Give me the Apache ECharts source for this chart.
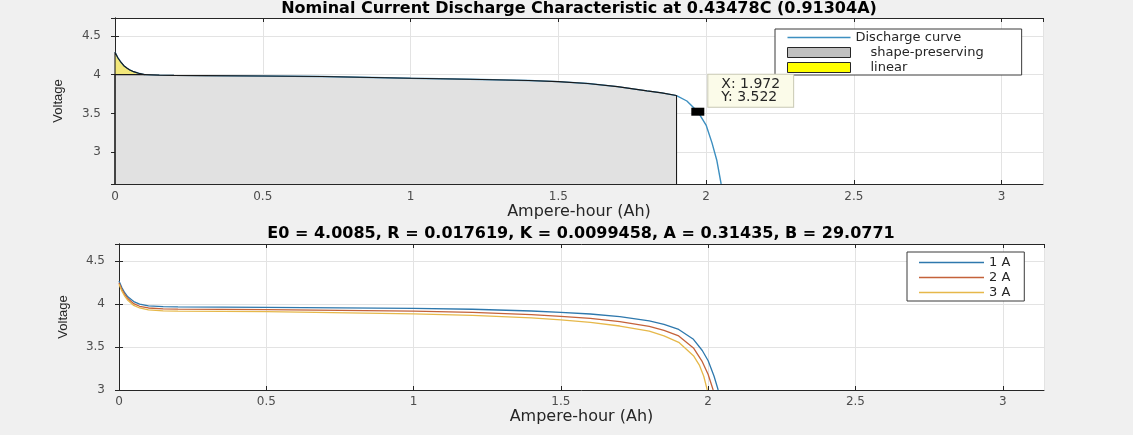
<!DOCTYPE html>
<html><head><meta charset="utf-8">
<script src="https://cdn.jsdelivr.net/npm/echarts@6/dist/echarts.min.js"></script>
<style>html,body{margin:0;padding:0;background:#f0f0f0}#c{width:1133px;height:435px}</style>
</head><body><div id="c"></div>
<script>
// ---------- text ----------
const topTitle = 'Nominal Current Discharge Characteristic at 0.43478C (0.91304A)';
const bottomTitle = 'E0 = 4.0085, R = 0.017619, K = 0.0099458, A = 0.31435, B = 29.0771';
const xName = 'Ampere-hour (Ah)';
const yName = 'Voltage';
const topLegendNames = ['Discharge curve', 'shape-preserving', 'linear'];
const bottomLegendNames = ['1 A', '2 A', '3 A'];

// ---------- axes ranges ----------
const xRange = [0, 3.14];
const topYRange = [2.59, 4.73];
const bottomYRange = [3, 4.7];

// ---------- nominal discharge curve (top) ----------
const nomX = [0, 0.01, 0.02, 0.03, 0.04, 0.05, 0.06, 0.08, 0.1, 0.15, 0.2, 0.3, 0.5, 0.7, 1.0, 1.2, 1.4, 1.5, 1.6, 1.7, 1.8, 1.85, 1.9, 1.935, 1.972, 2.0, 2.02, 2.036, 2.051];
const nomV = [4.29, 4.215, 4.16, 4.115, 4.085, 4.06, 4.042, 4.018, 4.0, 3.993, 3.99, 3.987, 3.982, 3.975, 3.953, 3.94, 3.925, 3.91, 3.885, 3.845, 3.79, 3.765, 3.73, 3.66, 3.522, 3.35, 3.12, 2.9, 2.59];
const shapeEndX = 1.9;     // end of the shape-preserving (grey) zone
const linearLevel = 4.0;   // level of the linear zone
const linearEndX = 0.1;    // end of the exponential (yellow) zone
const dataTip = [1.972, 3.522];

// ---------- discharge at 1 A, 2 A, 3 A (bottom) ----------
const ah1 = [0, 0.01, 0.02, 0.03, 0.05, 0.07, 0.1, 0.15, 0.2, 0.5, 1.0, 1.2, 1.4, 1.5, 1.6, 1.7, 1.8, 1.85, 1.9, 1.95, 1.98, 2.0, 2.02, 2.034];
const v1  = [4.27, 4.19, 4.13, 4.085, 4.03, 4.0, 3.98, 3.97, 3.968, 3.962, 3.95, 3.94, 3.92, 3.905, 3.885, 3.855, 3.805, 3.765, 3.705, 3.59, 3.46, 3.34, 3.16, 3.0];
const ah2 = [0, 0.01, 0.02, 0.03, 0.05, 0.07, 0.1, 0.15, 0.2, 0.5, 1.0, 1.2, 1.4, 1.5, 1.6, 1.7, 1.8, 1.85, 1.9, 1.95, 1.98, 2.0, 2.017];
const v2  = [4.25, 4.17, 4.11, 4.065, 4.005, 3.975, 3.955, 3.945, 3.942, 3.935, 3.918, 3.903, 3.878, 3.858, 3.833, 3.795, 3.74, 3.695, 3.63, 3.49, 3.33, 3.18, 3.0];
const ah3 = [0, 0.01, 0.02, 0.03, 0.05, 0.07, 0.1, 0.15, 0.2, 0.5, 1.0, 1.2, 1.4, 1.5, 1.6, 1.7, 1.8, 1.85, 1.9, 1.95, 1.97, 1.985, 1.997];
const v3  = [4.23, 4.15, 4.09, 4.045, 3.985, 3.955, 3.932, 3.921, 3.918, 3.912, 3.886, 3.87, 3.84, 3.817, 3.787, 3.745, 3.685, 3.63, 3.555, 3.40, 3.29, 3.16, 3.0];

// ---------- build ----------
const FF = 'DejaVu Sans';
const axisColor = '#262626';
const pairs = (xs, ys) => xs.map((x, i) => [x, ys[i]]);

const nomData = pairs(nomX, nomV);
const grayData = [[0, topYRange[0]]]
  .concat(nomData.filter(p => p[0] <= shapeEndX).map(p => [p[0], Math.min(p[1], linearLevel)]))
  .concat([[shapeEndX, topYRange[0]]]);
const yellowData = [[0, topYRange[0]]]
  .concat(nomData.filter(p => p[0] <= linearEndX));

function mainX(gridIndex, nameGap, margin) {
  return {
    type: 'value', gridIndex, min: xRange[0], max: xRange[1], interval: 0.5,
    name: xName, nameLocation: 'middle', nameGap,
    nameTextStyle: { fontFamily: FF, fontSize: 16, color: '#262626' },
    axisLine: { show: true, lineStyle: { color: axisColor } },
    axisTick: { show: true, inside: true, length: 4, lineStyle: { color: axisColor } },
    axisLabel: { margin, fontFamily: FF, fontSize: 12, color: '#4d4d4d', showMaxLabel: false },
    splitLine: { show: true, lineStyle: { color: '#e3e3e3' } }
  };
}
function sideX(gridIndex) {
  return {
    type: 'value', gridIndex, position: 'top', min: xRange[0], max: xRange[1], interval: 0.5,
    axisLine: { show: true, lineStyle: { color: axisColor } },
    axisTick: { show: true, inside: true, length: 4, lineStyle: { color: axisColor } },
    axisLabel: { show: false }, splitLine: { show: false }
  };
}
function mainY(gridIndex, range, interval, nameGap) {
  const o = {
    type: 'value', gridIndex, min: range[0], max: range[1],
    name: yName, nameLocation: 'middle', nameGap,
    nameTextStyle: { fontFamily: 'Liberation Sans', fontSize: 13, color: '#262626' },
    axisLine: { show: true, lineStyle: { color: axisColor } },
    axisTick: { show: true, inside: true, length: 4, lineStyle: { color: axisColor } },
    axisLabel: { margin: 14, fontFamily: FF, fontSize: 12, color: '#4d4d4d', showMinLabel: interval ? true : false, showMaxLabel: false },
    splitLine: { show: true, lineStyle: { color: '#e3e3e3' } }
  };
  if (interval) o.interval = interval; else o.splitNumber = 4;
  return o;
}
function sideY(gridIndex, range, interval) {
  const o = {
    type: 'value', gridIndex, position: 'right', min: range[0], max: range[1],
    axisLine: { show: true, lineStyle: { color: axisColor } },
    axisTick: { show: true, inside: true, length: 4, lineStyle: { color: axisColor } },
    axisLabel: { show: false }, splitLine: { show: false }
  };
  if (interval) o.interval = interval; else o.splitNumber = 4;
  return o;
}
const lineIcon = 'path://M0,0H64V1.3H0Z';
const colNom = '#3d8fc0', col1 = '#2e78ad', col2 = '#c4623a', col3 = '#e6b84a';

const option = {
  animation: false,
  backgroundColor: '#f0f0f0',
  title: [
    { text: topTitle, left: 579, top: 0, textAlign: 'center', padding: 0,
      textStyle: { fontFamily: FF, fontSize: 16, fontWeight: 'bold', color: '#000', lineHeight: 18 } },
    { text: bottomTitle, left: 581, top: 225, textAlign: 'center', padding: 0,
      textStyle: { fontFamily: FF, fontSize: 16, fontWeight: 'bold', color: '#000', lineHeight: 18 } }
  ],
  grid: [
    { left: 115, top: 18, right: 90, bottom: 251, show: true, backgroundColor: '#fff', borderWidth: 0 },
    { left: 119, top: 244, right: 89, bottom: 45, show: true, backgroundColor: '#fff', borderWidth: 0 }
  ],
  xAxis: [mainX(0, 19, 7), sideX(0), mainX(1, 19, 6), sideX(1)],
  yAxis: [mainY(0, topYRange, null, 50), sideY(0, topYRange, null), mainY(1, bottomYRange, 0.5, 49), sideY(1, bottomYRange, 0.5)],
  legend: [
    {
      orient: 'vertical', left: 775, top: 29, padding: [2, 38, 1, 12], itemGap: 2,
      itemWidth: 63, itemHeight: 10, selectedMode: false,
      backgroundColor: '#fff', borderColor: '#3a3a3a', borderWidth: 1,
      textStyle: { fontFamily: FF, fontSize: 13, color: '#262626', lineHeight: 12,
        rich: { ind: { fontFamily: FF, fontSize: 13, color: '#262626', lineHeight: 12, padding: [0, 0, 0, 15] } } },
      formatter: n => n === topLegendNames[0] ? n : '{ind|' + n + '}',
      data: [
        { name: topLegendNames[0], icon: lineIcon, itemStyle: { color: colNom, borderWidth: 0 } },
        { name: topLegendNames[1], icon: 'rect', itemStyle: { color: '#c0c0c0', borderColor: '#262626', borderWidth: 1 } },
        { name: topLegendNames[2], icon: 'rect', itemStyle: { color: '#ffff00', borderColor: '#262626', borderWidth: 1 } }
      ]
    },
    {
      orient: 'vertical', left: 907, top: 252, padding: [4, 14, 2, 12], itemGap: 2,
      itemWidth: 65, itemHeight: 11, selectedMode: false,
      backgroundColor: '#fff', borderColor: '#3a3a3a', borderWidth: 1,
      textStyle: { fontFamily: FF, fontSize: 13, color: '#262626', lineHeight: 11 },
      data: [
        { name: bottomLegendNames[0], icon: lineIcon, itemStyle: { color: col1, borderWidth: 0 } },
        { name: bottomLegendNames[1], icon: lineIcon, itemStyle: { color: col2, borderWidth: 0 } },
        { name: bottomLegendNames[2], icon: lineIcon, itemStyle: { color: col3, borderWidth: 0 } }
      ]
    }
  ],
  series: [
    { name: topLegendNames[0], type: 'line', xAxisIndex: 0, yAxisIndex: 0, data: nomData,
      symbol: 'none', lineStyle: { color: colNom, width: 1.4 }, itemStyle: { color: colNom } },
    { name: topLegendNames[2], type: 'line', xAxisIndex: 0, yAxisIndex: 0, data: yellowData,
      symbol: 'none', lineStyle: { color: '#1a1a1a', width: 1.1 },
      areaStyle: { color: '#f2e77a', opacity: 1, origin: 'start' }, itemStyle: { color: '#ffff00' } },
    { name: topLegendNames[1], type: 'line', xAxisIndex: 0, yAxisIndex: 0, data: grayData,
      symbol: 'none', lineStyle: { color: '#1a1a1a', width: 1.1 },
      areaStyle: { color: '#e1e1e1', opacity: 1, origin: 'start' }, itemStyle: { color: '#c0c0c0' } },
    { type: 'scatter', xAxisIndex: 0, yAxisIndex: 0, data: [dataTip], silent: true, z: 5,
      symbol: 'rect', symbolSize: [13, 8], itemStyle: { color: '#000', opacity: 1 },
      label: { show: true, position: [17, -33], formatter: () => 'X: ' + dataTip[0] + '\nY: ' + dataTip[1],
        fontFamily: FF, fontSize: 14, lineHeight: 13, color: '#262626',
        backgroundColor: '#fbfbe9', borderColor: '#c8c8b4', borderWidth: 1, padding: [3, 13] } },
    { name: bottomLegendNames[0], type: 'line', xAxisIndex: 2, yAxisIndex: 2, data: pairs(ah1, v1),
      symbol: 'none', lineStyle: { color: col1, width: 1.3 }, itemStyle: { color: col1 } },
    { name: bottomLegendNames[1], type: 'line', xAxisIndex: 2, yAxisIndex: 2, data: pairs(ah2, v2),
      symbol: 'none', lineStyle: { color: col2, width: 1.3 }, itemStyle: { color: col2 } },
    { name: bottomLegendNames[2], type: 'line', xAxisIndex: 2, yAxisIndex: 2, data: pairs(ah3, v3),
      symbol: 'none', lineStyle: { color: col3, width: 1.3 }, itemStyle: { color: col3 } }
  ]
};
const chart = echarts.init(document.getElementById('c'));
chart.setOption(option);
</script></body></html>
